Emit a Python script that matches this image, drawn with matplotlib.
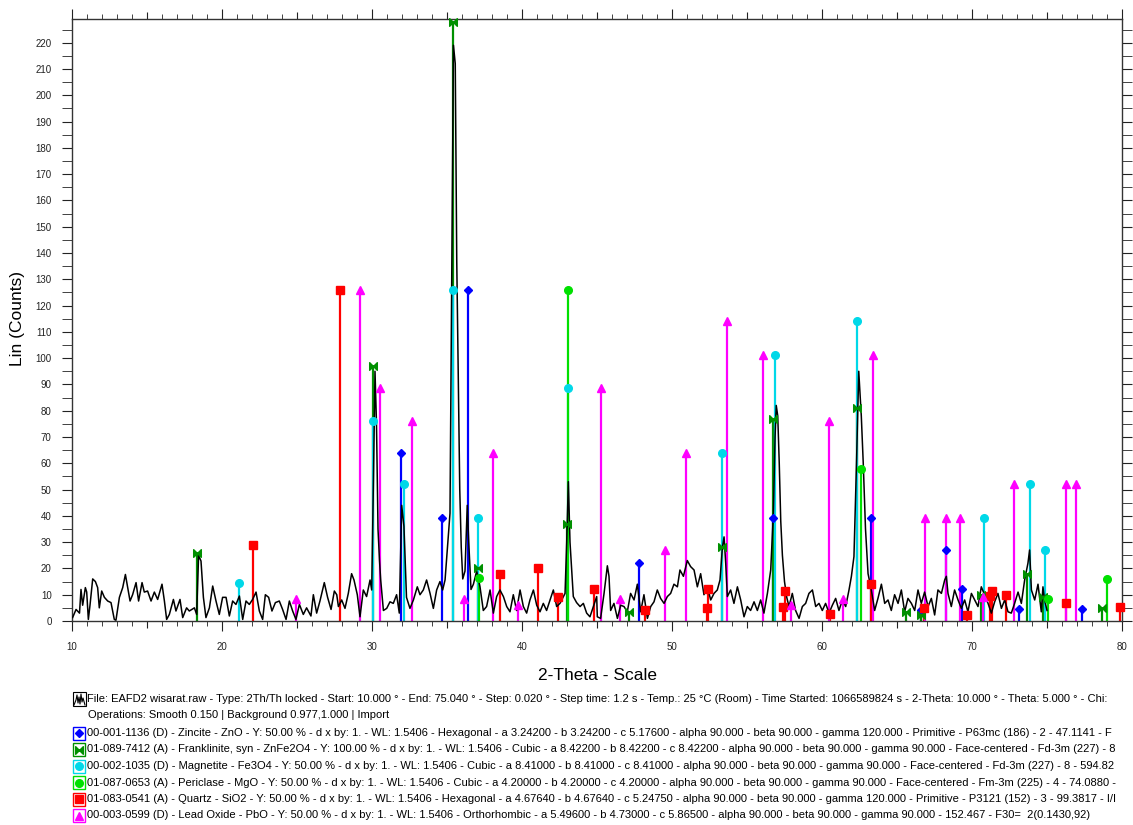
import matplotlib
matplotlib.use('Agg')
import matplotlib.pyplot as plt
from matplotlib.path import Path
from matplotlib.patches import Rectangle

plt.rcParams['font.family'] = ['Liberation Sans', 'DejaVu Sans']

# ---------------- measured pattern (2-Theta, Lin counts) ----------------
two_theta = [
    10.04, 10.27, 10.5, 10.6, 10.71, 10.89, 10.98, 11.09, 11.2, 11.38, 11.56, 11.71, 11.82, 11.98, 12.16, 12.38,
    12.6, 12.82, 12.93, 13.16, 13.38, 13.56, 13.71, 13.87, 14.04, 14.27, 14.44, 14.67, 14.82, 15.04, 15.27, 15.49,
    15.71, 16.0, 16.16, 16.31, 16.49, 16.76, 16.93, 17.2, 17.38, 17.64, 17.82, 18.16, 18.31, 18.44, 18.6, 18.76,
    18.93, 19.16, 19.38, 19.6, 19.82, 20.04, 20.27, 20.49, 20.71, 20.93, 21.16, 21.38, 21.6, 21.82, 22.04, 22.27,
    22.49, 22.71, 22.89, 23.11, 23.33, 23.56, 23.82, 24.04, 24.27, 24.49, 24.71, 24.93, 25.16, 25.42, 25.64, 25.93,
    26.09, 26.31, 26.53, 26.82, 27.04, 27.27, 27.49,
    27.65, 27.76, 27.98, 28.2, 28.42, 28.64, 28.8, 29.02, 29.2, 29.42, 29.64, 29.87, 29.98, 30.1, 30.2, 30.3,
    30.4, 30.5, 30.58, 30.76, 30.98, 31.2, 31.42, 31.64, 31.82, 31.98, 32.13, 32.3, 32.53, 32.76, 33.02, 33.2,
    33.42, 33.64, 33.87, 34.09, 34.31, 34.53, 34.71, 34.87, 34.98, 35.2, 35.33, 35.43, 35.55, 35.65, 35.75, 35.85,
    35.95, 36.05, 36.2, 36.35, 36.45, 36.6, 36.76, 36.98, 37.2, 37.42, 37.64, 37.87, 38.09, 38.31, 38.53, 38.76,
    38.98, 39.2, 39.42, 39.64, 39.87, 40.09, 40.31, 40.53, 40.76, 40.98, 41.2, 41.42, 41.64, 41.87, 42.09, 42.31,
    42.53, 42.76, 42.87, 42.98, 43.09, 43.2, 43.42, 43.64, 43.87, 44.09, 44.31, 44.53, 44.76, 44.98,
    45.02, 45.24, 45.47, 45.69, 45.8, 45.91, 46.13, 46.36, 46.58, 46.8, 47.02, 47.24, 47.47, 47.69, 47.91, 48.13,
    48.36, 48.58, 48.8, 49.02, 49.24, 49.47, 49.69, 49.91, 50.13, 50.36, 50.53, 50.76, 51.02, 51.24, 51.47, 51.69,
    51.91, 52.13, 52.36, 52.58, 52.8, 53.02, 53.2, 53.36, 53.47, 53.58, 53.69, 53.91, 54.13, 54.36, 54.58, 54.8,
    55.02, 55.24, 55.47, 55.69, 55.91, 56.13, 56.36, 56.58, 56.76, 56.87, 56.95, 57.05, 57.15, 57.25, 57.36, 57.5,
    57.65, 57.8, 58.02, 58.24, 58.47, 58.69, 58.91, 59.13, 59.36, 59.58, 59.8, 60.02, 60.24, 60.47, 60.69, 60.91,
    61.13, 61.36, 61.58, 61.8, 61.96, 62.13, 62.3, 62.45, 62.55, 62.62, 62.75, 62.9, 63.07, 63.29, 63.51, 63.73,
    63.96, 64.18, 64.4, 64.62, 64.84, 65.07, 65.29, 65.51, 65.73, 65.96, 66.18, 66.4, 66.62, 66.84, 67.07, 67.29,
    67.51, 67.73, 67.96, 68.18, 68.29, 68.4, 68.62, 68.84, 69.07, 69.29, 69.51, 69.73, 69.96, 70.18, 70.4, 70.62,
    70.84, 71.07, 71.29, 71.51, 71.73, 71.96, 72.18, 72.4, 72.62, 72.84, 73.07, 73.29, 73.51, 73.73, 73.84, 73.96,
    74.18, 74.4, 74.62, 74.73, 74.84, 75.0,
]
counts = [
    1.3, 4.4, 3, 12, 6, 12.7, 11, 0.6, 6, 16, 15, 12.7, 5, 11.4, 9, 7.6,
    7, 0.6, 0.3, 9, 12.7, 17.7, 12.7, 7.6, 10, 14.6, 7.6, 14.6, 11, 11.4, 7.6, 11,
    8.2, 14, 7.6, 0.6, 2.5, 8.2, 3.8, 8.2, 1.3, 5, 3.8, 5, 2.5, 25, 22.8, 9,
    1.3, 5, 13.3, 7.6, 2.5, 9, 9, 1.9, 7.6, 6.3, 9.5, 0.6, 7.6, 6.3, 8.2, 11,
    3.8, 0.6, 10, 9, 3.8, 7, 7.6, 4.4, 0.6, 7.6, 3.8, 0.6, 6.3, 2.5, 5, 1.9,
    10, 3, 7.6, 14.6, 9, 4.4, 11.4,
    10, 5.5, 8, 4.8, 10.5, 18, 15.6, 10, 1.6, 11.8, 9.3, 15.6, 11.8, 55, 95, 75,
    35, 23, 15.6, 4, 4.8, 7.3, 6.7, 10, 3, 44, 36, 9, 4.8, 8, 13, 10,
    11.8, 15.6, 10.5, 4.8, 11.8, 15, 11.8, 15.6, 24, 41, 140, 219, 212, 137, 93, 50,
    28, 16, 19, 44, 30, 12, 14, 19, 13, 4, 5.5, 11.8, 3, 9.3, 11.8, 9.3,
    5.5, 3.5, 10, 4, 11.8, 5.5, 3, 8, 11.8, 6, 3.5, 6.7, 4, 8, 11.8, 5.5,
    6.7, 9.3, 10.5, 30, 53, 30, 9.3, 7, 5.5, 6.7, 3, 1.6, 5.5, 9.3,
    1.6, 1, 10.5, 21, 17, 4, 6.7, 1, 6, 5.5, 3.5, 10.5, 8, 14, 3.5, 10,
    1, 5.5, 7.3, 11.8, 8.6, 6.7, 9.3, 10.5, 14, 13, 19.4, 17, 23, 20.7, 19.4, 13,
    18, 10, 13, 8, 10.5, 11.8, 15.6, 28, 32, 22, 9.3, 11.8, 6.7, 13, 8, 1.6,
    5.5, 4, 7.3, 4, 8, 3, 10.5, 19.4, 41, 70, 82, 78, 60, 38, 25, 15,
    9, 5.5, 10.5, 4, 1, 5.5, 6.7, 10.5, 11.8, 5.5, 6.7, 4, 6.7, 3, 6, 8.6,
    4, 8, 5.5, 11.8, 17, 24.5, 60, 95, 85, 78, 60, 35, 18, 11.8, 4, 8.6,
    14, 6.7, 8, 4, 10, 6.7, 11.8, 3.5, 8.6, 6.7, 4, 11.8, 6.7, 11, 5.5, 8.6,
    2.3, 11.8, 10.5, 15.6, 17, 10.5, 5.5, 11.8, 8, 4.8, 8, 3.5, 10.5, 8, 5.5, 13,
    10, 6.7, 3, 7.3, 10.5, 4.8, 8, 3.5, 3, 6.7, 11, 6.7, 15.6, 22, 27, 11.8,
    8, 14, 3.5, 13, 8, 4,
]

# ---------------- reference phase sticks ----------------
zincite_pos = [31.93, 34.67, 36.4, 47.8, 56.73, 63.27, 66.6, 68.27, 69.3, 73.1, 77.3]
zincite_int = [64, 39, 126, 22, 39, 39, 4, 27, 12, 4.5, 4.5]

franklinite_pos = [18.33, 30.07, 35.4, 37.07, 43.0, 47.1, 53.33, 56.73, 62.33, 65.6, 66.6, 70.6, 73.67, 74.73, 78.67]
franklinite_int = [26, 97, 228, 20, 37, 3.5, 28, 77, 81, 3.5, 2.3, 10, 18, 9, 5]

magnetite_pos = [21.13, 30.07, 32.13, 35.4, 37.07, 43.07, 53.33, 56.87, 62.33, 70.8, 73.87, 74.87]
magnetite_int = [14.5, 76, 52, 126, 39, 88.6, 64, 101, 114, 39, 52, 27]

periclase_pos = [37.1, 43.07, 62.6, 75.07, 79.0]
periclase_int = [16.5, 126, 58, 8.5, 16]

quartz_pos = [22.07, 27.87, 38.53, 41.07, 42.4, 44.8, 48.2, 52.33, 52.4, 57.4, 57.5, 60.53, 63.27,
              66.8, 69.67, 71.2, 71.33, 72.27, 76.27, 79.87]
quartz_int = [29, 126, 18, 20, 9, 12, 4, 5, 12, 5.5, 11.5, 2.7, 14, 5, 2.3, 9.5, 11.5, 10, 7, 5.5]

pbo_pos = [24.93, 29.2, 30.53, 32.67, 36.13, 38.07, 39.73, 45.27, 46.53, 49.53, 50.93, 53.67, 56.07,
           57.93, 60.47, 61.4, 63.4, 66.87, 68.27, 69.2, 70.73, 72.8, 76.27, 76.93]
pbo_int = [8.5, 126, 88.6, 76, 8.5, 64, 6, 88.6, 8.5, 27, 64, 114, 101, 6, 76, 8.5, 101, 39, 39, 39,
           9, 52, 52, 52]

x_ticks = [10, 20, 30, 40, 50, 60, 70, 80]
y_ticks = list(range(0, 221, 10))

file_line1 = ("File: EAFD2 wisarat.raw - Type: 2Th/Th locked - Start: 10.000 \u00b0 - End: 75.040 \u00b0 - "
              "Step: 0.020 \u00b0 - Step time: 1.2 s - Temp.: 25 \u00b0C (Room) - Time Started: 1066589824 s - "
              "2-Theta: 10.000 \u00b0 - Theta: 5.000 \u00b0 - Chi:")
file_line2 = "Operations: Smooth 0.150 | Background 0.977,1.000 | Import"
phase_labels = [
    "00-001-1136 (D) - Zincite - ZnO - Y: 50.00 % - d x by: 1. - WL: 1.5406 - Hexagonal - a 3.24200 - b 3.24200 - c 5.17600 - alpha 90.000 - beta 90.000 - gamma 120.000 - Primitive - P63mc (186) - 2 - 47.1141 - F",
    "01-089-7412 (A) - Franklinite, syn - ZnFe2O4 - Y: 100.00 % - d x by: 1. - WL: 1.5406 - Cubic - a 8.42200 - b 8.42200 - c 8.42200 - alpha 90.000 - beta 90.000 - gamma 90.000 - Face-centered - Fd-3m (227) - 8",
    "00-002-1035 (D) - Magnetite - Fe3O4 - Y: 50.00 % - d x by: 1. - WL: 1.5406 - Cubic - a 8.41000 - b 8.41000 - c 8.41000 - alpha 90.000 - beta 90.000 - gamma 90.000 - Face-centered - Fd-3m (227) - 8 - 594.82",
    "01-087-0653 (A) - Periclase - MgO - Y: 50.00 % - d x by: 1. - WL: 1.5406 - Cubic - a 4.20000 - b 4.20000 - c 4.20000 - alpha 90.000 - beta 90.000 - gamma 90.000 - Face-centered - Fm-3m (225) - 4 - 74.0880 -",
    "01-083-0541 (A) - Quartz - SiO2 - Y: 50.00 % - d x by: 1. - WL: 1.5406 - Hexagonal - a 4.67640 - b 4.67640 - c 5.24750 - alpha 90.000 - beta 90.000 - gamma 120.000 - Primitive - P3121 (152) - 3 - 99.3817 - I/I",
    "00-003-0599 (D) - Lead Oxide - PbO - Y: 50.00 % - d x by: 1. - WL: 1.5406 - Orthorhombic - a 5.49600 - b 4.73000 - c 5.86500 - alpha 90.000 - beta 90.000 - gamma 90.000 - 152.467 - F30=  2(0.1430,92)",
]

# bowtie marker for Franklinite
bowtie = Path([(-1, -1), (-1, 1), (0, 0), (-1, -1), (1, -1), (1, 1), (0, 0), (1, -1)],
              [Path.MOVETO, Path.LINETO, Path.LINETO, Path.CLOSEPOLY,
               Path.MOVETO, Path.LINETO, Path.LINETO, Path.CLOSEPOLY])

phases = [
    (zincite_pos, zincite_int, '#0000ff', 'D', 4.2),
    (franklinite_pos, franklinite_int, '#009000', bowtie, 5.5),
    (magnetite_pos, magnetite_int, '#00d8e8', 'o', 5.5),
    (periclase_pos, periclase_int, '#00e000', 'o', 5.5),
    (quartz_pos, quartz_int, '#ff0000', 's', 5.5),
    (pbo_pos, pbo_int, '#ff00ff', '^', 6),
]

W, H = 1133, 825
fig = plt.figure(figsize=(W / 100, H / 100), dpi=100)
ax = fig.add_axes([72 / W, 1 - 621 / H, (1122 - 72) / W, (621 - 19) / H])

for pos, inten, col, mk, ms in phases:
    ax.vlines(pos, 0, inten, colors=col, lw=1.6, zorder=2)
    ax.plot(pos, inten, ls='none', marker=mk, ms=ms, color=col, mec=col, zorder=4, clip_on=False)

ax.plot(two_theta, counts, color='black', lw=1.1, zorder=3)

ax.set_xlim(10, 80)
ax.set_ylim(0, 229)
ax.set_xticks(x_ticks)
ax.set_xticklabels([str(t) for t in x_ticks])
ax.set_xticks(list(range(10, 81, 1)), minor=True)
ax.set_yticks(y_ticks)
ax.set_yticklabels([str(t) for t in y_ticks])
ax.set_yticks(list(range(5, 229, 10)), minor=True)
ax.tick_params(which='both', direction='out', top=True, right=True, labelsize=7, colors='#222222',
               labelcolor='#222222')
ax.tick_params(axis='y', which='both', length=7.2, pad=7.5)
ax.tick_params(axis='y', which='both', right=True)
ax.tick_params(axis='x', which='major', length=7.5, pad=7.5)
ax.tick_params(axis='x', which='minor', length=3.6)
for sp in ax.spines.values():
    sp.set_linewidth(1.0)
    sp.set_color('#333333')

# medium ticks every 5 degrees (top and bottom)
for side in ('bottom', 'top'):
    sec = ax.secondary_xaxis(side)
    sec.set_xticks(list(range(15, 80, 10)))
    sec.tick_params(direction='out', length=5.2, labelbottom=False, labeltop=False, colors='#222222')
    sec.spines[side].set_visible(False)

fig.text(18 / W, 1 - 318 / H, 'Lin (Counts)', rotation=90, ha='center', va='center', fontsize=12.5)
fig.text(598 / W, 1 - 675 / H, '2-Theta - Scale', ha='center', va='center', fontsize=12.5)

# legend region in pixel coordinates
lg = fig.add_axes([0, 0, 1, 1])
lg.set_xlim(0, W)
lg.set_ylim(H, 0)
lg.axis('off')

line_y = [699, 715.5, 733, 749.5, 766, 782.5, 799, 815.5]
lg.text(87, line_y[0], file_line1, fontsize=8, va='center', ha='left')
lg.text(88, line_y[1], file_line2, fontsize=8, va='center', ha='left')
# file icon
lg.add_patch(Rectangle((73, 692), 13, 14, fill=False, ec='black', lw=0.8))
lg.plot([74, 76, 77, 78, 79, 80, 81, 82, 83, 85], [705, 700, 695, 703, 697, 704, 694, 702, 698, 705],
        color='black', lw=0.8)

for i, ((pos, inten, col, mk, ms), label) in enumerate(zip(phases, phase_labels)):
    yy = line_y[i + 2]
    lg.add_patch(Rectangle((73, yy - 6.5), 12, 13, fill=False, ec=col, lw=1.0))
    lg.plot([79], [yy], marker=mk, ms=ms, color=col, mec=col, ls='none')
    lg.text(87, yy, label, fontsize=8, va='center', ha='left')

fig.savefig('out.png', dpi=100)
